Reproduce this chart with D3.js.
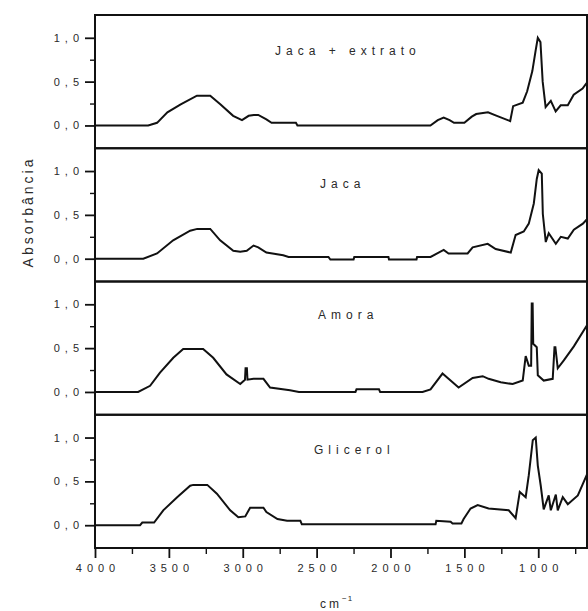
<!DOCTYPE html>
<html>
<head>
<meta charset="utf-8">
<script src="https://cdn.jsdelivr.net/npm/d3@7"></script>
<style>
  body { margin: 0; background: #fff; }
  svg text { font-family: "Liberation Sans", Arial, sans-serif; fill: #2a2a2a; }
</style>
</head>
<body>
<svg id="chart"></svg>
<script>
const width = 588;
const height = 611;

// panel titles, top to bottom
const panelLabels = ["Jaca + extrato", "Jaca", "Amora", "Glicerol"];

// [wavenumber cm-1, absorbance]
const jacaExtrato = [
  [4000, 0], [3640, 0], [3580, 0.03], [3510, 0.15], [3420, 0.24], [3310, 0.34], [3220, 0.34],
  [3150, 0.24], [3065, 0.11], [3005, 0.06], [2960, 0.11], [2925, 0.12], [2895, 0.12], [2840, 0.07],
  [2805, 0.03], [2640, 0.03], [2630, 0], [1730, 0], [1680, 0.06], [1640, 0.09], [1600, 0.06],
  [1570, 0.03], [1500, 0.03], [1450, 0.10], [1420, 0.13], [1340, 0.15], [1280, 0.11], [1190, 0.05],
  [1170, 0.22], [1105, 0.26], [1075, 0.39], [1040, 0.62], [1018, 0.85], [1003, 1.0], [985, 0.95],
  [970, 0.5], [950, 0.21], [915, 0.28], [882, 0.16], [848, 0.23], [800, 0.23], [760, 0.35],
  [700, 0.42], [670, 0.49]
];

const jaca = [
  [4000, 0], [3673, 0], [3580, 0.06], [3471, 0.21], [3356, 0.32], [3308, 0.34], [3220, 0.34],
  [3153, 0.21], [3064, 0.09], [3017, 0.08], [2973, 0.09], [2927, 0.15], [2895, 0.13], [2840, 0.07],
  [2726, 0.04], [2690, 0.02], [2420, 0.02], [2407, -0.01], [2250, -0.01], [2245, 0.02], [2014, 0.02],
  [2010, -0.01], [1824, -0.01], [1820, 0.02], [1729, 0.02], [1640, 0.10], [1607, 0.06], [1478, 0.06],
  [1444, 0.13], [1342, 0.17], [1288, 0.11], [1186, 0.07], [1153, 0.27], [1098, 0.31], [1064, 0.40],
  [1030, 0.63], [1010, 0.91], [997, 1.01], [976, 0.97], [969, 0.51], [949, 0.19], [929, 0.29],
  [881, 0.17], [847, 0.25], [800, 0.23], [759, 0.33], [698, 0.40], [670, 0.45]
];

const amora = [
  [4000, 0], [3708, 0], [3627, 0.07], [3560, 0.22], [3470, 0.39], [3403, 0.49], [3268, 0.49],
  [3200, 0.39], [3110, 0.20], [3017, 0.09], [2985, 0.14], [2981, 0.27], [2972, 0.27], [2968, 0.14],
  [2927, 0.15], [2860, 0.15], [2815, 0.05], [2680, 0.02], [2620, 0], [2237, 0], [2230, 0.03],
  [2078, 0.03], [2070, 0], [1783, 0], [1729, 0.03], [1648, 0.21], [1607, 0.15], [1539, 0.05],
  [1444, 0.16], [1376, 0.18], [1336, 0.15], [1254, 0.11], [1173, 0.09], [1105, 0.13], [1085, 0.41],
  [1064, 0.30], [1048, 0.30], [1044, 1.01], [1038, 1.01], [1034, 0.55], [1010, 0.51], [1003, 0.19],
  [963, 0.13], [902, 0.15], [890, 0.51], [884, 0.51], [868, 0.27], [827, 0.36], [759, 0.52],
  [670, 0.76]
];

const glicerol = [
  [4000, 0], [3695, 0], [3680, 0.03], [3600, 0.03], [3538, 0.17], [3444, 0.32], [3356, 0.45],
  [3335, 0.46], [3240, 0.46], [3175, 0.36], [3085, 0.17], [3030, 0.09], [2983, 0.10], [2950, 0.20],
  [2860, 0.20], [2840, 0.15], [2765, 0.07], [2700, 0.05], [2610, 0.05], [2600, 0.01], [1695, 0.01],
  [1690, 0.05], [1593, 0.04], [1580, 0.02], [1520, 0.02], [1505, 0.07], [1458, 0.19], [1410, 0.23],
  [1336, 0.19], [1200, 0.17], [1153, 0.08], [1125, 0.38], [1085, 0.32], [1064, 0.57], [1037, 0.97],
  [1017, 1.0], [1003, 0.68], [983, 0.45], [963, 0.18], [929, 0.34], [915, 0.17], [881, 0.35],
  [868, 0.17], [834, 0.32], [800, 0.24], [732, 0.34], [670, 0.58]
];

const series = [jacaExtrato, jaca, amora, glicerol];

const xMajorTicks = [4000, 3500, 3000, 2500, 2000, 1500, 1000];
const xMinorTicks = [3750, 3250, 2750, 2250, 1750, 1250, 750];
const yMajorTicks = [0, 0.5, 1.0];
const yMinorTicks = [0.25, 0.75];

const margin = {top: 15, right: 1, bottom: 63, left: 95};
const plotW = width - margin.left - margin.right;
const plotH = height - margin.top - margin.bottom;
const panelH = plotH / series.length;

// label placement inside each panel (left edge, baseline offset)
const labelX = [275, 320, 318, 314];
const labelDy = [40, 40, 37, 39];

const svg = d3.select("#chart")
    .attr("width", width)
    .attr("height", height);

const x = d3.scaleLinear()
    .domain([4000, 670])
    .range([margin.left, margin.left + plotW]);

const fmt = d => d3.format(".1f")(d).replace(".", ",");

series.forEach((data, i) => {
    const top = margin.top + i * panelH;
    const y = d3.scaleLinear()
        .domain([-0.26, 1.26])
        .range([top + panelH, top]);

    const g = svg.append("g");

    // y axis with comma decimals
    g.append("g")
        .attr("transform", `translate(${margin.left},0)`)
        .call(d3.axisLeft(y).tickValues(yMajorTicks).tickFormat(fmt).tickSize(10).tickPadding(1))
        .call(a => a.select(".domain").remove())
        .call(a => a.selectAll("line").attr("stroke", "#111").attr("stroke-width", 1.8))
        .call(a => a.selectAll("text").attr("font-size", 11).attr("font-family", null).attr("letter-spacing", 5));

    g.append("g")
        .attr("transform", `translate(${margin.left},0)`)
        .call(d3.axisLeft(y).tickValues(yMinorTicks).tickFormat("").tickSize(5))
        .call(a => a.select(".domain").remove())
        .call(a => a.selectAll("line").attr("stroke", "#111").attr("stroke-width", 1.4));

    // spectrum
    const line = d3.line()
        .x(d => x(d[0]))
        .y(d => y(d[1]));

    g.append("path")
        .datum(data)
        .attr("fill", "none")
        .attr("stroke", "#111")
        .attr("stroke-width", 2)
        .attr("d", line);

    // panel frame
    g.append("rect")
        .attr("x", margin.left)
        .attr("y", top)
        .attr("width", plotW)
        .attr("height", panelH)
        .attr("fill", "none")
        .attr("stroke", "#111")
        .attr("stroke-width", 2);

    g.append("text")
        .attr("x", labelX[i])
        .attr("y", top + labelDy[i])
        .attr("font-size", 12)
        .attr("letter-spacing", 5)
        .text(panelLabels[i]);
});

// bottom x axis
const bottom = margin.top + plotH;
svg.append("g")
    .attr("transform", `translate(0,${bottom})`)
    .call(d3.axisBottom(x).tickValues(xMajorTicks).tickFormat(d3.format("d")).tickSize(10).tickPadding(6))
    .call(a => a.select(".domain").remove())
    .call(a => a.selectAll("line").attr("stroke", "#111").attr("stroke-width", 1.8))
    .call(a => a.selectAll("text").attr("font-size", 11).attr("font-family", null)
        .attr("letter-spacing", 5).attr("dx", 2.5));

svg.append("g")
    .attr("transform", `translate(0,${bottom})`)
    .call(d3.axisBottom(x).tickValues(xMinorTicks).tickFormat("").tickSize(6))
    .call(a => a.select(".domain").remove())
    .call(a => a.selectAll("line").attr("stroke", "#111").attr("stroke-width", 1.4));

// axis titles
svg.append("text")
    .attr("transform", "translate(33,212) rotate(-90)")
    .attr("text-anchor", "middle")
    .attr("font-size", 14)
    .attr("letter-spacing", 3)
    .text("Absorbância");

const xt = svg.append("text")
    .attr("x", 320)
    .attr("y", 608)
    .attr("font-size", 12)
    .attr("letter-spacing", 3);
xt.append("tspan").text("cm");
xt.append("tspan").attr("dy", -7).attr("font-size", 8).attr("letter-spacing", 1).text("−1");
</script>
</body>
</html>
